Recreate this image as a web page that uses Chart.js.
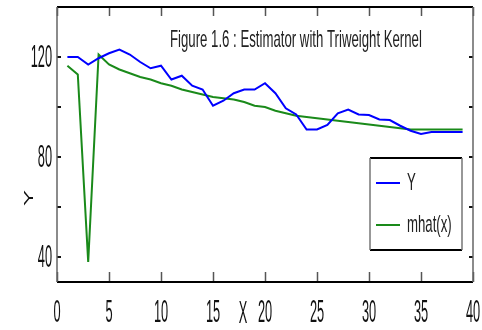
<!DOCTYPE html>
<html>
<head>
<meta charset="utf-8">
<script src="https://cdn.jsdelivr.net/npm/chart.js@4.4.1/dist/chart.umd.min.js"></script>
<style>
  html, body { margin: 0; padding: 0; background: #fff; }
  #wrap { width: 482px; height: 330px; }
</style>
</head>
<body>
<div id="wrap"><canvas id="kernelChart" width="482" height="330"></canvas></div>
<script>
const xs = [1, 2, 3, 4, 5, 6, 7, 8, 9, 10, 11, 12, 13, 14, 15, 16, 17, 18, 19, 20,
  21, 22, 23, 24, 25, 26, 27, 28, 29, 30, 31, 32, 33, 34, 35, 36, 37, 38, 39];
const yObs = [120, 120, 117, 119.5, 121.5, 123, 121, 118, 115.5, 116.5, 111, 112.5, 108.5, 107, 100.5, 102.5, 105.5, 107, 107, 109.5,
  105.5, 99.5, 97, 91, 91, 92.8, 97.5, 99, 97, 96.8, 95, 94.8, 92.5, 90.5, 89.2, 90, 90, 90, 90];
const mhat = [116.5, 113, 38, 121, 117, 115, 113.5, 112, 111, 109.5, 108.5, 107, 106, 105, 104, 103.5, 103, 102, 100.5, 100,
  98.5, 97.5, 96.5, 96, 95.5, 95, 94.5, 94, 93.5, 93, 92.5, 92, 91.5, 91, 91, 91, 91, 91, 91];
const xTicks = [0, 5, 10, 15, 20, 25, 30, 35, 40];
const yTicks = [40, 60, 80, 100, 120];
const yTickLabels = ['40', '', '80', '', '120'];
const titleText = 'Figure 1.6 : Estimator with Triweight Kernel';

const FONT = "'Liberation Sans', Arial, sans-serif";

// text in the picture is squeezed sideways, so draw it scaled
function narrowText(ctx, text, x, y, sx, align) {
  ctx.save();
  ctx.translate(x, y);
  ctx.scale(sx, 1);
  ctx.textAlign = align;
  ctx.fillText(text, 0, 0);
  ctx.restore();
}

const matlabAxes = {
  id: 'matlabAxes',
  afterDatasetsDraw(chart) {
    const ctx = chart.ctx;
    const a = chart.chartArea;
    const sx = chart.scales.x, sy = chart.scales.y;
    ctx.save();

    // ticks (pointing inward)
    ctx.strokeStyle = '#555';
    ctx.lineWidth = 1.5;
    xTicks.forEach(v => {
      const px = Math.round(sx.getPixelForValue(v)) + 0.5;
      ctx.beginPath();
      ctx.moveTo(px, a.bottom); ctx.lineTo(px, a.bottom - 10);
      ctx.moveTo(px, a.top); ctx.lineTo(px, a.top + 9);
      ctx.stroke();
    });
    ctx.strokeStyle = '#111';
    ctx.lineWidth = 2;
    yTicks.forEach(v => {
      const py = Math.round(sy.getPixelForValue(v));
      ctx.beginPath();
      ctx.moveTo(a.left, py); ctx.lineTo(a.left + 4, py);
      ctx.moveTo(a.right, py); ctx.lineTo(a.right - 4, py);
      ctx.stroke();
    });

    // box
    ctx.strokeStyle = '#000';
    ctx.lineWidth = 2;
    ctx.beginPath();
    ctx.moveTo(a.left, a.top); ctx.lineTo(a.right, a.top);
    ctx.moveTo(a.left, a.bottom); ctx.lineTo(a.right, a.bottom);
    ctx.stroke();
    ctx.strokeStyle = '#666';
    ctx.lineWidth = 1.5;
    ctx.beginPath();
    ctx.moveTo(a.left, a.top); ctx.lineTo(a.left, a.bottom);
    ctx.moveTo(a.right, a.top); ctx.lineTo(a.right, a.bottom);
    ctx.stroke();

    // tick labels
    ctx.fillStyle = '#111';
    ctx.font = '32px ' + FONT;
    ctx.textBaseline = 'alphabetic';
    xTicks.forEach(v => {
      narrowText(ctx, String(v), sx.getPixelForValue(v), a.bottom + 40, 0.4, 'center');
    });
    ctx.textBaseline = 'middle';
    yTicks.forEach((v, i) => {
      if (yTickLabels[i]) narrowText(ctx, yTickLabels[i], a.left - 5, sy.getPixelForValue(v) + 1, 0.4, 'right');
    });

    // axis labels
    ctx.textBaseline = 'alphabetic';
    narrowText(ctx, 'X', 243, a.bottom + 41, 0.4, 'center');
    ctx.save();
    ctx.font = '24px ' + FONT;
    ctx.translate(33, 198);
    ctx.scale(0.55, 1);
    ctx.rotate(-Math.PI / 2);
    ctx.textAlign = 'center';
    ctx.fillText('Y', 0, 0);
    ctx.restore();

    // title inside the axes
    ctx.fillStyle = '#222';
    ctx.font = '24px ' + FONT;
    narrowText(ctx, titleText, 170, 47, 0.55, 'left');

    // legend
    const bx = 370, by = 158, bw = 92, bh = 92;
    ctx.fillStyle = '#fff';
    ctx.fillRect(bx, by, bw, bh);
    ctx.strokeStyle = '#000';
    ctx.lineWidth = 2;
    ctx.beginPath();
    ctx.moveTo(bx, by); ctx.lineTo(bx + bw, by);
    ctx.moveTo(bx, by + bh); ctx.lineTo(bx + bw, by + bh);
    ctx.stroke();
    ctx.strokeStyle = '#777';
    ctx.lineWidth = 1.5;
    ctx.beginPath();
    ctx.moveTo(bx, by); ctx.lineTo(bx, by + bh);
    ctx.moveTo(bx + bw, by); ctx.lineTo(bx + bw, by + bh);
    ctx.stroke();
    chart.data.datasets.forEach((ds, i) => {
      const ly = by + 25 + i * 42;
      ctx.strokeStyle = ds.borderColor;
      ctx.lineWidth = 2;
      ctx.beginPath();
      ctx.moveTo(bx + 6, ly); ctx.lineTo(bx + 30, ly);
      ctx.stroke();
      ctx.fillStyle = '#222';
      ctx.textBaseline = 'middle';
      narrowText(ctx, ds.label, bx + 37, ly, 0.55, 'left');
    });

    ctx.restore();
  }
};

new Chart(document.getElementById('kernelChart').getContext('2d'), {
  type: 'line',
  data: {
    datasets: [
      {
        label: 'Y',
        data: xs.map((x, i) => ({ x, y: yObs[i] })),
        borderColor: '#0000ff',
        borderWidth: 2
      },
      {
        label: 'mhat(x)',
        data: xs.map((x, i) => ({ x, y: mhat[i] })),
        borderColor: '#1a8a1a',
        borderWidth: 2
      }
    ]
  },
  options: {
    responsive: false,
    animation: false,
    layout: { padding: { left: 57, right: 9, top: 7, bottom: 48 } },
    elements: { point: { radius: 0 }, line: { tension: 0 } },
    plugins: { legend: { display: false }, tooltip: { enabled: false } },
    scales: {
      x: { type: 'linear', min: 0, max: 40, display: false },
      y: { min: 30, max: 140, display: false }
    }
  },
  plugins: [matlabAxes]
});
</script>
</body>
</html>
